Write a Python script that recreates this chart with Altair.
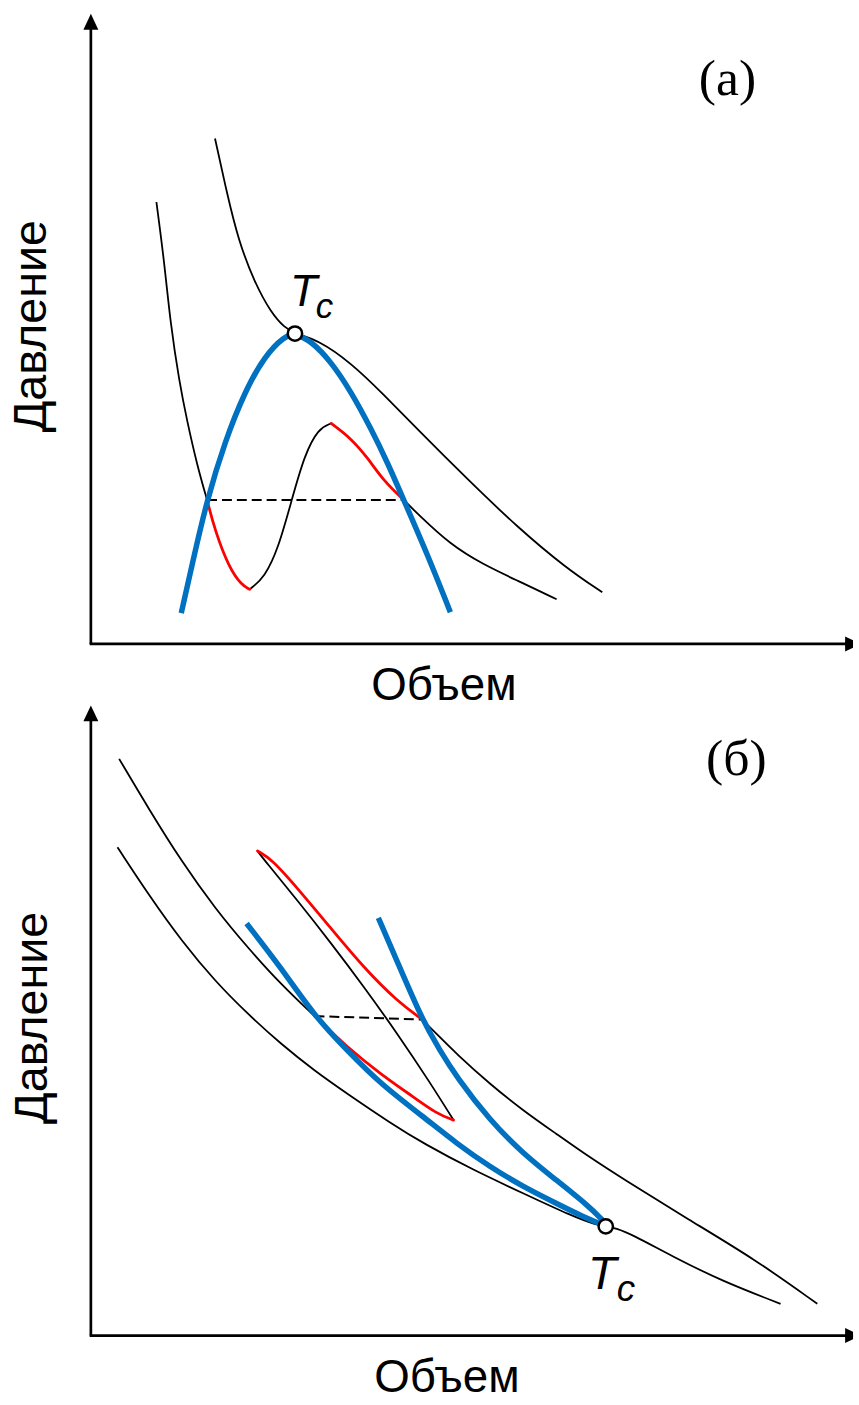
import altair as alt
import pandas as pd

# ---------------------------------------------------------------
# Panel (а): isotherms with a critical point at the top of the dome
# Volume / pressure in arbitrary units, origin at the axes corner
# ---------------------------------------------------------------
A_CRIT_V = [125, 137, 148.5, 165, 181.5, 195, 205.5, 229, 262, 295, 329, 379, 429, 479, 515]
A_CRIT_P = [509, 454, 406.5, 363.5, 333.5, 318.5, 312.5, 306, 283, 251, 216, 166, 118, 76, 52]

# sub-critical isotherm, split into stable (black) and metastable (red) parts
A_LOW1_V = [66, 74, 80, 89, 97, 107, 117]
A_LOW1_P = [445, 384, 324, 264, 224, 180, 145]
A_RED1_V = [117, 125, 139, 152, 160]
A_RED1_P = [145, 114, 77, 59, 55]
A_LOW2_V = [160, 175, 189, 202, 215, 229, 242]
A_LOW2_P = [55, 67, 97, 144, 190, 217, 222]
A_RED2_V = [242, 262, 279, 295, 315]
A_RED2_P = [222, 207, 187, 164, 145]
A_LOW3_V = [315, 329, 362, 395, 429, 469]
A_LOW3_P = [145, 131, 100, 80, 64, 45]

A_TIE_V = [117, 315]
A_TIE_P = [145, 145]

A_BINODAL_V = [91, 104, 117, 135, 155, 175, 195, 205.5, 222, 242, 262, 282, 299, 315, 339, 362]
A_BINODAL_P = [31, 89, 145, 204, 254, 290, 310, 312.5, 305, 284, 254, 217, 182, 145, 90, 32]

A_TC = (205.5, 312.5)

# ---------------------------------------------------------------
# Panel (б): critical point at the bottom of the coexistence region
# ---------------------------------------------------------------
B_UP1_V = [28.5, 58.5, 91.8, 125.2, 158.5, 191.8, 225.2]
B_UP1_P = [580.7, 530, 476.7, 430, 390, 353.3, 321.7]
B_RED1_V = [225.2, 258.5, 291.8, 325.2, 348.5, 365.2]
B_RED1_P = [321.7, 290, 263.3, 240, 223.3, 217]
B_MID_V = [365.2, 341.8, 308.5, 275.2, 241.8, 208.5, 175.2, 167.8]
B_MID_P = [217, 254.4, 304.3, 350.9, 395.3, 437.6, 478.2, 488]
B_RED2_V = [167.8, 181.8, 208.5, 241.8, 275.2, 308.5, 333.5]
B_RED2_P = [488, 480, 450, 410, 370, 336.7, 318.3]
B_UP2_V = [333.5, 345.2, 368.5, 401.8, 435.2, 468.5, 501.5, 535.5, 601.5, 668.5, 731.5]
B_UP2_P = [318.3, 306.7, 283.3, 253.3, 226.7, 203.3, 180, 158, 117, 77, 32]

B_TIE_V = [225.2, 333.5]
B_TIE_P = [321.7, 318.3]

B_CRIT_V = [26.8, 58.5, 91.8, 125.2, 158.5, 191.8, 225.2, 258.5, 301.8, 335.2, 385.2,
            435.2, 485.2, 508.5, 518.5, 528.5, 545.2, 585.2, 635.2, 694.5]
B_CRIT_P = [491.7, 443.3, 396.7, 356.7, 323.3, 293.3, 266.7, 243.3, 214, 193.3, 166.7,
            143.3, 120, 111.7, 110, 108.3, 101.7, 80, 55, 32]

B_BIN_L_V = [156.8, 191.8, 225.2, 258.5, 291.8, 335.2, 368.5, 401.8, 435.2, 468.5, 501.8, 516]
B_BIN_L_P = [415, 370, 321.7, 286.7, 253.3, 220, 193.3, 170, 150, 133.3, 116.7, 111.5]
B_BIN_R_V = [289.5, 308.5, 333.5, 351.8, 368.5, 401.8, 435.2, 468.5, 501.8, 515.5]
B_BIN_R_P = [420.7, 376.7, 318.3, 286.7, 260, 216.7, 183.3, 156.7, 130, 116]

B_TC = (518.5, 110)

X_LABEL = "Объем"
Y_LABEL = "Давление"

BLACK = "#000000"
RED = "#FF0000"
BLUE = "#0070C0"
SANS = "Liberation Sans"
SERIF = "Liberation Serif"

W = 859
H_A, H_B = 702, 703
AXIS_TOP = 626.5        # arrow-head centre on the pressure axis
AXIS_RIGHT = 767.5      # arrow-head centre on the volume axis

XS_A = alt.Scale(domain=[-91.5, 767.5], nice=False, zero=False)
YS_A = alt.Scale(domain=[-58.5, 643.5], nice=False, zero=False)
XS_B = alt.Scale(domain=[-91.5, 767.5], nice=False, zero=False)
YS_B = alt.Scale(domain=[-65, 638], nice=False, zero=False)

UP_ARROW = "M0,-1L0.94,1L-0.94,1Z"
RIGHT_ARROW = "M1,0L-1,0.94L-1,-0.94Z"


def enc(xs, ys):
    return dict(x=alt.X("V:Q", scale=xs, axis=None), y=alt.Y("P:Q", scale=ys, axis=None))


def curve(v, p, xs, ys, color, width, dash=None, cap="butt", interp="basis"):
    df = pd.DataFrame({"V": v, "P": p, "i": list(range(len(v)))})
    kw = dict(color=color, strokeWidth=width, interpolate=interp, strokeCap=cap)
    if dash:
        kw["strokeDash"] = dash
    return alt.Chart(df).mark_line(**kw).encode(order="i:Q", **enc(xs, ys))


def axes(xs, ys):
    df_y = pd.DataFrame({"V": [0, 0], "P": [0, AXIS_TOP], "i": [0, 1]})
    df_x = pd.DataFrame({"V": [-1.2, AXIS_RIGHT], "P": [0, 0], "i": [0, 1]})
    ly = alt.Chart(df_y).mark_line(color=BLACK, strokeWidth=2.7).encode(order="i:Q", **enc(xs, ys))
    lx = alt.Chart(df_x).mark_line(color=BLACK, strokeWidth=2.7).encode(order="i:Q", **enc(xs, ys))
    hy = alt.Chart(pd.DataFrame({"V": [0], "P": [AXIS_TOP]})).mark_point(
        shape=UP_ARROW, size=256, filled=True, color=BLACK, opacity=1).encode(**enc(xs, ys))
    hx = alt.Chart(pd.DataFrame({"V": [AXIS_RIGHT], "P": [0]})).mark_point(
        shape=RIGHT_ARROW, size=256, filled=True, color=BLACK, opacity=1, clip=True).encode(**enc(xs, ys))
    return [ly, lx, hy, hx]


def text(v, p, s, xs, ys, **kw):
    df = pd.DataFrame({"V": [v], "P": [p], "t": [s]})
    return alt.Chart(df).mark_text(**kw).encode(text="t:N", **enc(xs, ys))


def crit_point(pt, xs, ys):
    df = pd.DataFrame({"V": [pt[0]], "P": [pt[1]]})
    return alt.Chart(df).mark_point(shape="circle", size=210, filled=True, fill="white",
                                    stroke=BLACK, strokeWidth=2.5, opacity=1).encode(**enc(xs, ys))


def labels(xs, ys, y_lab_p, y_lab_v, x_lab_v, x_lab_p):
    return [
        text(y_lab_v, y_lab_p, Y_LABEL, xs, ys, font=SANS, fontSize=47, angle=270,
             align="center", baseline="alphabetic", color=BLACK),
        text(x_lab_v, x_lab_p, X_LABEL, xs, ys, font=SANS, fontSize=46,
             align="center", baseline="alphabetic", color=BLACK),
    ]


# ---- panel (а) ----
layers_a = axes(XS_A, YS_A) + [
    curve(A_CRIT_V, A_CRIT_P, XS_A, YS_A, BLACK, 1.8),
    curve(A_LOW1_V, A_LOW1_P, XS_A, YS_A, BLACK, 1.8),
    curve(A_LOW2_V, A_LOW2_P, XS_A, YS_A, BLACK, 1.8),
    curve(A_LOW3_V, A_LOW3_P, XS_A, YS_A, BLACK, 1.8),
    curve(A_TIE_V, A_TIE_P, XS_A, YS_A, BLACK, 2, dash=[10, 5], interp="linear"),
    curve(A_RED1_V, A_RED1_P, XS_A, YS_A, RED, 2.8, cap="round"),
    curve(A_RED2_V, A_RED2_P, XS_A, YS_A, RED, 2.8, cap="round"),
    curve(A_BINODAL_V, A_BINODAL_P, XS_A, YS_A, BLUE, 5.5),
    crit_point(A_TC, XS_A, YS_A),
    text(200.5, 340.5, "T", XS_A, YS_A, font=SANS, fontSize=45, fontStyle="italic",
         align="left", baseline="alphabetic", color=BLACK),
    text(226.5, 328.5, "c", XS_A, YS_A, font=SANS, fontSize=35, fontStyle="italic",
         align="left", baseline="alphabetic", color=BLACK),
    text(641, 553, "(а)", XS_A, YS_A, font=SERIF, fontSize=52,
         align="center", baseline="alphabetic", color=BLACK),
] + labels(XS_A, YS_A, 320, -45.5, 355.5, -56.5)

panel_a = alt.layer(*layers_a).properties(width=W, height=H_A)

# ---- panel (б) ----
layers_b = axes(XS_B, YS_B) + [
    curve(B_CRIT_V, B_CRIT_P, XS_B, YS_B, BLACK, 1.8),
    curve(B_UP1_V, B_UP1_P, XS_B, YS_B, BLACK, 1.8),
    curve(B_MID_V, B_MID_P, XS_B, YS_B, BLACK, 1.8),
    curve(B_UP2_V, B_UP2_P, XS_B, YS_B, BLACK, 1.8),
    curve(B_TIE_V, B_TIE_P, XS_B, YS_B, BLACK, 2, dash=[10, 5], interp="linear"),
    curve(B_RED1_V, B_RED1_P, XS_B, YS_B, RED, 2.8, cap="round"),
    curve(B_RED2_V, B_RED2_P, XS_B, YS_B, RED, 2.8, cap="round"),
    curve(B_BIN_L_V, B_BIN_L_P, XS_B, YS_B, BLUE, 5.5),
    curve(B_BIN_R_V, B_BIN_R_P, XS_B, YS_B, BLUE, 5.5),
    crit_point(B_TC, XS_B, YS_B),
    text(500.5, 47, "T", XS_B, YS_B, font=SANS, fontSize=47, fontStyle="italic",
         align="left", baseline="alphabetic", color=BLACK),
    text(529.5, 35, "c", XS_B, YS_B, font=SANS, fontSize=37, fontStyle="italic",
         align="left", baseline="alphabetic", color=BLACK),
    text(650, 564, "(б)", XS_B, YS_B, font=SERIF, fontSize=52,
         align="center", baseline="alphabetic", color=BLACK),
] + labels(XS_B, YS_B, 320, -44.5, 358.5, -57)

panel_b = alt.layer(*layers_b).properties(width=W, height=H_B)

chart = alt.vconcat(panel_a, panel_b, spacing=0, bounds="flush", padding=0).configure_view(
    stroke=None
)

chart.save("out.html", embed_options={"renderer": "svg", "actions": False})
